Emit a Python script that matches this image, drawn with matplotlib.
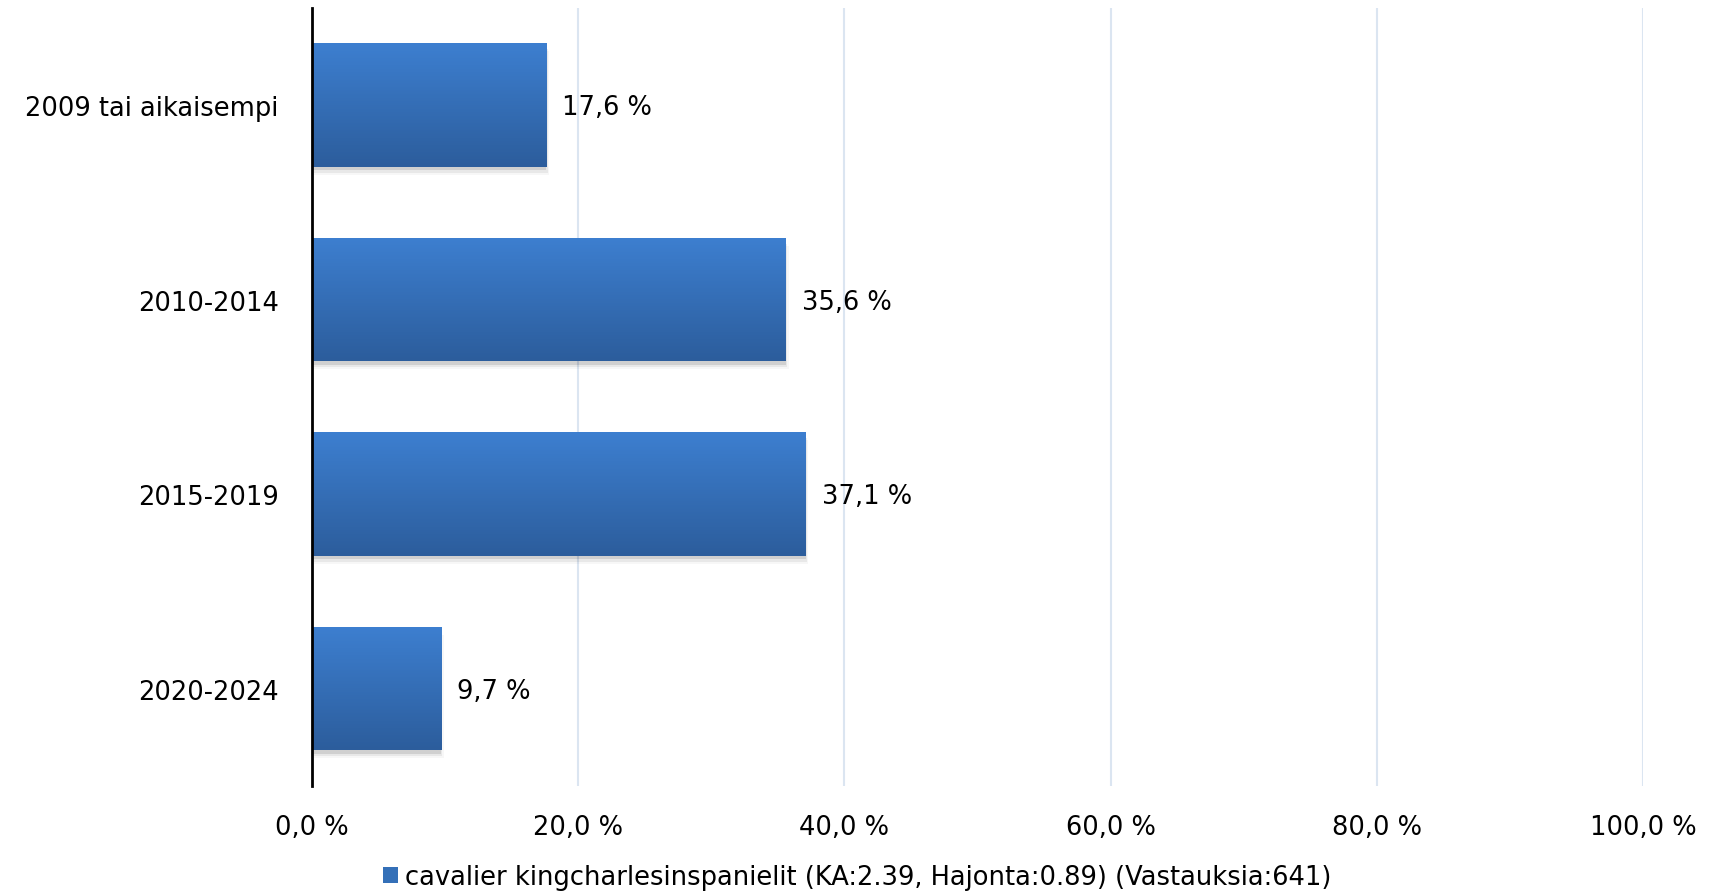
import matplotlib.pyplot as plt
import matplotlib.patches as mpatches
from matplotlib.colors import LinearSegmentedColormap
import numpy as np

categories = ["2009 tai aikaisempi", "2010-2014", "2015-2019", "2020-2024"]
values = [17.6, 35.6, 37.1, 9.7]
xticks = [0, 20, 40, 60, 80, 100]
legend_label = "cavalier kingcharlesinspanielit (KA:2.39, Hajonta:0.89) (Vastauksia:641)"

plt.rcParams['font.family'] = ['DejaVu Sans']
FS = 18.5

fig = plt.figure(figsize=(17.21, 8.95), dpi=100)
ax = fig.add_axes([0.1813, 0.1207, 0.7734, 0.8693])

grad = LinearSegmentedColormap.from_list("bar", ["#3d7fd0", "#2c5d9c"])
gradient = np.linspace(0, 1, 256).reshape(-1, 1)

y = np.arange(len(categories))
bars = ax.barh(y, values, height=0.635, color="none", zorder=3)
for b in bars:
    x0, y0 = b.get_x(), b.get_y()
    w, h = b.get_width(), b.get_height()
    # soft drop shadow underneath
    for k, a in enumerate([0.10, 0.06, 0.03]):
        off = 0.012 * (k + 1)
        sh = mpatches.Rectangle((x0, y0 + off + 0.005), w + 0.1 * k, h, facecolor="black",
                                alpha=a, edgecolor="none", zorder=2)
        ax.add_patch(sh)
    im = ax.imshow(gradient, cmap=grad, aspect="auto", extent=(x0, x0 + w, y0 + h, y0),
                   zorder=3, interpolation="bicubic")
    im.set_clip_path(b)

for yi, v in zip(y, values):
    ax.text(v + 1.2, yi + 0.01, f"{v:.1f} %".replace(".", ","), va="center", ha="left", fontsize=FS)

ax.set_xlim(0, 100)
ax.set_ylim(len(categories) - 0.5, -0.5)
ax.set_xticks(xticks)
ax.set_xticklabels([f"{t:.1f} %".replace(".", ",") for t in xticks], fontsize=FS)
ax.set_yticks(y)
ax.set_yticklabels(categories, fontsize=FS)
ax.tick_params(length=0)
ax.tick_params(axis="x", pad=20)
ax.tick_params(axis="y", pad=24)
ax.grid(axis="x", color="#dbe5f1", linewidth=1.5, zorder=0)
ax.set_axisbelow(True)
for s in ["top", "right", "bottom"]:
    ax.spines[s].set_visible(False)
ax.spines["left"].set_linewidth(2)
ax.spines["left"].set_zorder(5)

handle = mpatches.Patch(facecolor="#3470b8", edgecolor="none")
fig.legend([handle], [legend_label], loc="center", bbox_to_anchor=(0.498, 0.019),
           frameon=False, fontsize=FS, handlelength=0.6, handleheight=0.6, handletextpad=0.25)

fig.savefig("out.png", dpi=100)
